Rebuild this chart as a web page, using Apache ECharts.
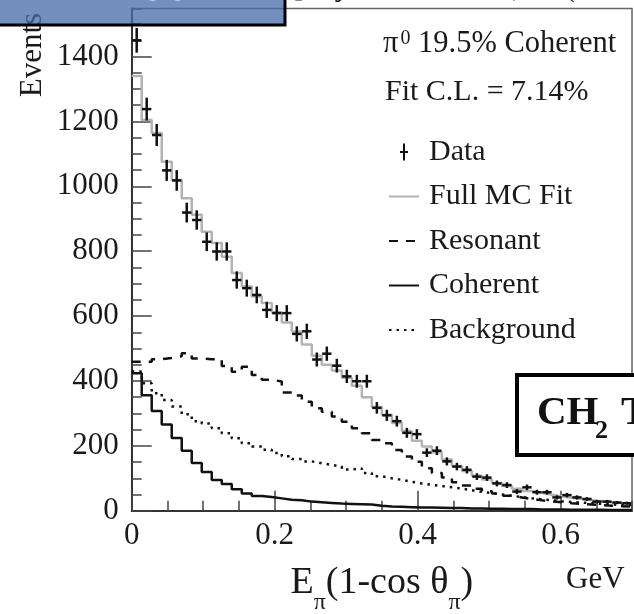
<!DOCTYPE html>
<html>
<head>
<meta charset="utf-8">
<script src="https://cdn.jsdelivr.net/npm/echarts@6/dist/echarts.min.js"></script>
<style>
html,body{margin:0;padding:0;background:#fff;}
#chart{width:634px;height:614px;}
</style>
</head>
<body>
<div id="chart"></div>
<script>
// ---- data ----
const BIN_WIDTH = 0.014;      // GeV
const xTickLabels = ['0', '0.2', '0.4', '0.6'];
const yTickLabels = ['0', '200', '400', '600', '800', '1000', '1200', '1400'];
const legendNames = ['Data', 'Full MC Fit', 'Resonant', 'Coherent', 'Background'];

const dataCounts = [1450,1238,1158,1049,1018,919,896,829,799,799,
  711,686,665,619,609,609,545,553,466,484,
  447,414,399,399,317,294,276,240,236,179,
  185,152,136,126,105,102,84,79,59,72,
  57,57,41,48,41,36,28,28,25,23];

const fullMC = [1340,1204,1164,1076,1019,963,912,860,825,783,
  733,691,660,640,612,580,552,512,478,450,
  432,410,385,350,320,296,270,246,216,198,
  180,158,138,122,108,96,85,76,68,61,
  55,49,44,40,36,32,29,26,24,22];

const resonant = [459,459,467,471,476,485,469,467,467,446,
  428,444,418,404,398,364,355,336,316,305,
  290,274,254,239,218,208,187,167,151,131,
  116,102,88,78,68,60,53,46,41,36,
  32,29,26,23,21,19,17,15,14,13];

const coherent = [424,356,307,266,224,185,147,119,95,82,
  66,53,45,42,38,34,32,28,26,24,
  22,21,20,19,15,13,12,11,10,10,
  9,8,8,7,7,6,6,5,5,5,
  4,4,4,3,3,3,3,2,2,2];

const background = [429,393,362,341,321,297,276,269,254,239,
  223,208,198,188,178,168,159,152,146,141,
  136,127,130,116,106,100,95,89,84,80,
  76,72,68,63,58,54,50,46,42,38,
  35,32,29,27,25,23,21,19,18,17];

// ---- helpers ----
const SERIF = 'Liberation Serif';
const TXT = '#1a1a1a';
function stepData(vals) {
  const out = vals.map((v, i) => [i * BIN_WIDTH, v]);
  out.push([vals.length * BIN_WIDTH, vals[vals.length - 1]]);
  return out;
}
const pointData = dataCounts.map((v, i) => [(i + 0.5) * BIN_WIDTH, v, Math.sqrt(v)]);
const X_MAX = dataCounts.length * BIN_WIDTH;
const Y_MAX = 1548;
const hiddenSymbol = {opacity: 0};

const chart = echarts.init(document.getElementById('chart'), null, {renderer: 'canvas'});

const option = {
  animation: false,
  backgroundColor: '#fff',
  grid: {left: 131.7, right: 2, top: 8.5, bottom: 103.3, containLabel: false, outerBoundsMode: 'none',
    show: true, borderColor: '#666', borderWidth: 1.5, backgroundColor: 'transparent'},
  xAxis: [
    {
      type: 'value', min: 0, max: X_MAX, interval: 0.2, position: 'bottom',
      axisLine: {show: true, lineStyle: {color: '#333', width: 2}},
      axisTick: {show: true, inside: true, length: 20, lineStyle: {color: '#444', width: 1.5}},
      axisLabel: {show: true, showMaxLabel: false, margin: 10, fontFamily: SERIF, fontSize: 31, color: TXT,
        formatter: (v) => { const s = String(Math.round(v * 10) / 10); return xTickLabels.indexOf(s) >= 0 ? s : ''; }},
      splitLine: {show: false},
      name: '{m|E}{s|π}{m|(1-cos θ}{s|π}{m|)}',
      nameLocation: 'middle', nameGap: 53,
      nameTextStyle: {
        fontFamily: SERIF, color: TXT,
        rich: {
          m: {fontFamily: SERIF, fontSize: 38, color: TXT, lineHeight: 38, verticalAlign: 'top'},
          s: {fontFamily: SERIF, fontSize: 24, color: TXT, lineHeight: 24, padding: [27, 0, 0, 0], verticalAlign: 'top'}
        }
      }
    },
    {
      type: 'value', min: 0, max: X_MAX, interval: 0.05, position: 'bottom',
      axisLine: {show: false},
      axisTick: {show: true, inside: true, length: 10, lineStyle: {color: '#444', width: 1.5}},
      axisLabel: {show: false}, splitLine: {show: false}
    }
  ],
  yAxis: [
    {
      type: 'value', min: 0, max: Y_MAX, interval: 200, position: 'left',
      axisLine: {show: true, lineStyle: {color: '#333', width: 2}},
      axisTick: {show: true, inside: true, length: 20, lineStyle: {color: '#444', width: 1.5}},
      axisLabel: {show: true, showMaxLabel: false, margin: 13, fontFamily: SERIF, fontSize: 31, color: TXT,
        formatter: (v) => { const s = String(Math.round(v)); return yTickLabels.indexOf(s) >= 0 ? s : ''; }},
      splitLine: {show: false}
    },
    {
      type: 'value', min: 0, max: Y_MAX, interval: 50, position: 'left',
      axisLine: {show: false},
      axisTick: {show: true, inside: true, length: 10, lineStyle: {color: '#444', width: 1.5}},
      axisLabel: {show: false}, splitLine: {show: false}
    }
  ],
  legend: {
    orient: 'vertical', left: 383, top: 132, itemWidth: 30, itemHeight: 17, itemGap: 14.5,
    selectedMode: false,
    textStyle: {fontFamily: SERIF, fontSize: 30, color: TXT, padding: [0, 0, 0, 5]},
    data: [
      {name: legendNames[0], icon: 'path://M3,0h2v7.5h3v2h-3v7.5h-2v-7.5h-3v-2h3z'},
      {name: legendNames[1], itemStyle: hiddenSymbol},
      {name: legendNames[2], itemStyle: hiddenSymbol},
      {name: legendNames[3], itemStyle: hiddenSymbol},
      {name: legendNames[4], itemStyle: hiddenSymbol}
    ]
  },
  series: [
    {
      name: 'Full MC Fit', type: 'line', step: 'end', symbol: 'none', z: 2,
      data: stepData(fullMC), color: '#b3b3b3',
      lineStyle: {color: '#b3b3b3', width: 2.5}
    },
    {
      name: 'Resonant', type: 'line', step: 'end', symbol: 'none', z: 3,
      data: stepData(resonant), color: '#111',
      lineStyle: {color: '#111', width: 2.5, type: [9, 8]}
    },
    {
      name: 'Coherent', type: 'line', step: 'end', symbol: 'none', z: 3,
      data: stepData(coherent), color: '#111',
      lineStyle: {color: '#111', width: 2.5}
    },
    {
      name: 'Background', type: 'line', step: 'end', symbol: 'none', z: 3,
      data: stepData(background), color: '#111',
      lineStyle: {color: '#111', width: 2.5, type: [2.5, 5]}
    },
    {
      name: 'Data', type: 'custom', z: 4, color: '#111',
      data: pointData,
      renderItem: function (params, api) {
        const x = api.value(0), y = api.value(1), e = api.value(2);
        const lo = api.coord([x, y - e]);
        const hi = api.coord([x, y + e]);
        const l = api.coord([x - BIN_WIDTH / 2 * 0.93, y]);
        const r = api.coord([x + BIN_WIDTH / 2 * 0.93, y]);
        return {
          type: 'group',
          children: [
            {type: 'line', shape: {x1: lo[0], y1: lo[1], x2: hi[0], y2: hi[1]}, style: {stroke: '#111', lineWidth: 2.5}},
            {type: 'line', shape: {x1: l[0], y1: l[1], x2: r[0], y2: r[1]}, style: {stroke: '#111', lineWidth: 2.5}}
          ]
        };
      }
    }
  ],
  graphic: [
    // header text in the frame
    {
      type: 'text', left: 383, top: 28, z: 10,
      style: {
        text: '{m|π}{p|0}{m| 19.5% Coherent}',
        rich: {
          m: {fontFamily: SERIF, fontSize: 30.5, fill: TXT, lineHeight: 30, verticalAlign: 'bottom'},
          p: {fontFamily: SERIF, fontSize: 20, fill: TXT, lineHeight: 20, padding: [0, 0, 10, 2], verticalAlign: 'top'}
        }
      }
    },
    {
      type: 'text', left: 385, top: 77, z: 10,
      style: {text: 'Fit C.L. = 7.14%', font: '30px "Liberation Serif"', fill: TXT}
    },
    // y axis title
    {
      type: 'text', x: 33, y: 55, rotation: Math.PI / 2, z: 10,
      style: {text: 'Events', font: '31px "Liberation Serif"', fill: TXT, align: 'center', verticalAlign: 'middle'}
    },
    // unit
    {
      type: 'text', x: 566, y: 580, z: 10,
      style: {text: 'GeV', font: '31px "Liberation Serif"', fill: TXT, align: 'left', verticalAlign: 'middle'}
    },
    // partial slide header cut at top
    {
      type: 'text', x: 293, y: -12, z: 10,
      style: {text: '[Phys. Lett. B 664, 41 (2008)]', font: '30px "Liberation Serif"', fill: '#111', align: 'left', verticalAlign: 'middle'}
    },
    // blue banner at top left
    {
      type: 'rect', z: 20,
      shape: {x: -5, y: -10, width: 290, height: 35},
      style: {fill: 'rgba(70,108,168,0.76)', stroke: '#000', lineWidth: 3}
    },
    {
      type: 'text', x: 4, y: -13, z: 21,
      style: {text: 'MiniBooNE', font: 'bold 50px "Liberation Serif"', fill: '#fff', align: 'left', verticalAlign: 'middle'}
    },
    // CH2 target box
    {
      type: 'rect', z: 20,
      shape: {x: 517, y: 375, width: 140, height: 80},
      style: {fill: '#fff', stroke: '#000', lineWidth: 4}
    },
    {
      type: 'text', x: 537, y: 413, z: 21,
      style: {text: 'CH', font: 'bold 41px "Liberation Serif"', fill: '#111', align: 'left', verticalAlign: 'middle'}
    },
    {
      type: 'text', x: 595, y: 431, z: 21,
      style: {text: '2', font: 'bold 26px "Liberation Serif"', fill: '#111', align: 'left', verticalAlign: 'middle'}
    },
    {
      type: 'text', x: 621, y: 413, z: 21,
      style: {text: 'Target', font: 'bold 41px "Liberation Serif"', fill: '#111', align: 'left', verticalAlign: 'middle'}
    }
  ]
};
chart.setOption(option);
</script>
</body>
</html>
